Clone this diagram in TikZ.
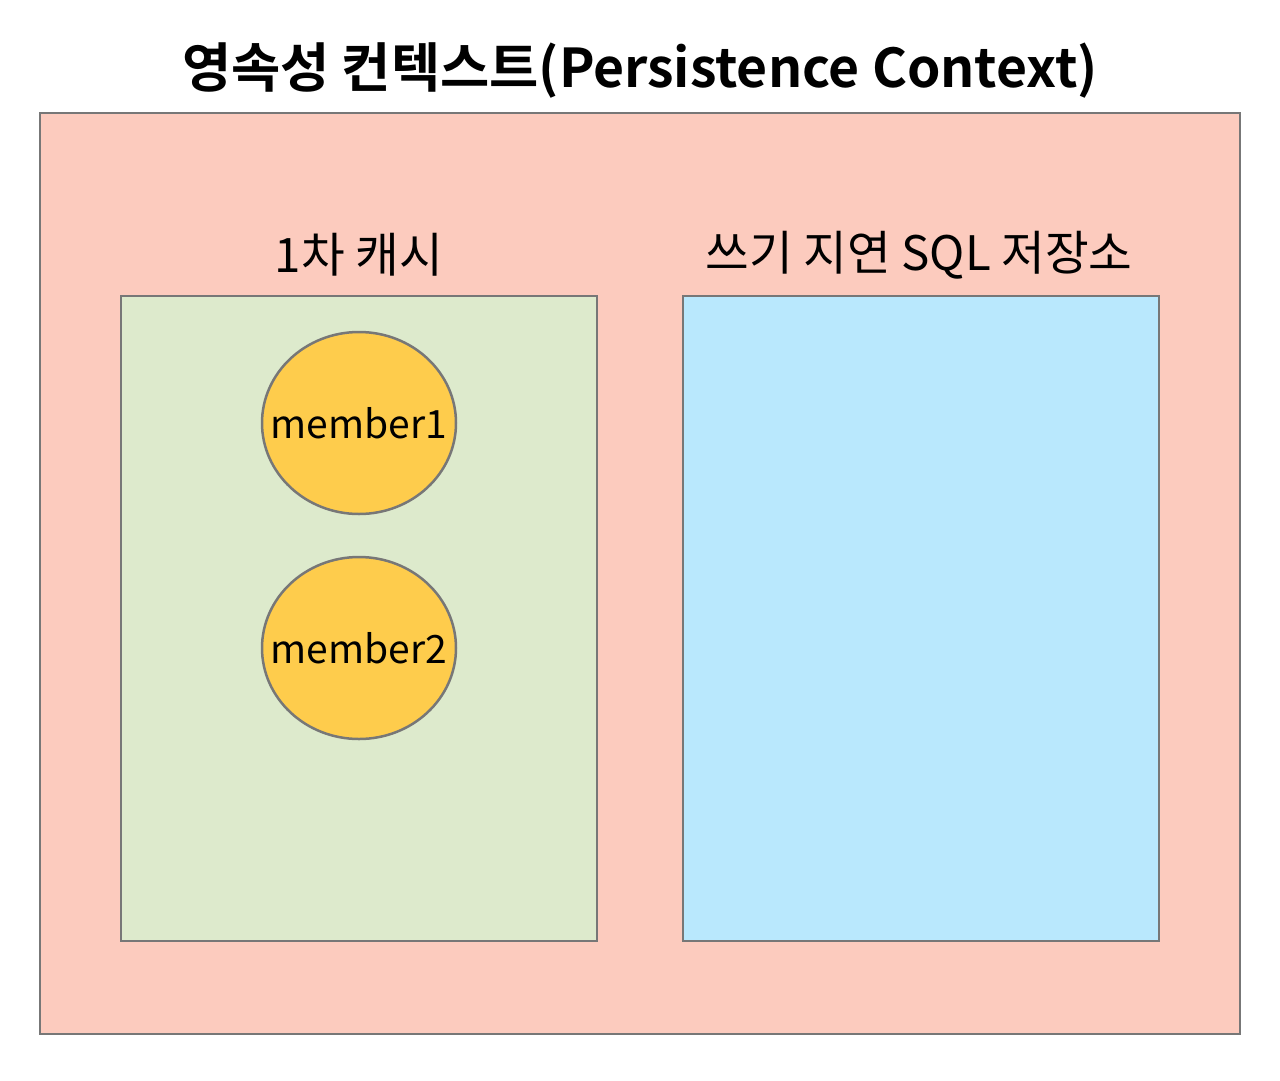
\documentclass[tikz,border=0pt]{standalone}
\usepackage{fontspec}
\setmainfont{Noto Sans CJK KR}
\newfontfamily\krbold{Noto Sans CJK KR Bold}
\usetikzlibrary{shapes.geometric}
\definecolor{outerfill}{HTML}{FCCBBE}
\definecolor{greenfill}{HTML}{DDEACC}
\definecolor{bluefill}{HTML}{B9E8FD}
\definecolor{yellowfill}{HTML}{FECC4C}
\definecolor{edgegray}{HTML}{777777}
\begin{document}
\begin{tikzpicture}[x=1pt,y=-1pt,
  boxstyle/.style={draw=edgegray,line width=2.5pt},
  memberstyle/.style={ellipse,draw=edgegray,line width=2.5pt,fill=yellowfill,minimum width=194pt,minimum height=182pt,inner sep=0pt,
    label={[font=\fontsize{39}{44}\selectfont,inner sep=0pt]center:#1}},
  labelstyle/.style={font=\fontsize{47.5}{52}\selectfont,anchor=center,inner sep=0pt}]
\useasboundingbox (0,0) rectangle (1280,1080);
\fill[white] (0,0) rectangle (1280,1080);
\node[draw=none,inner sep=0pt,font=\krbold\fontsize{53.5}{60}\selectfont] (title) at (640,70) {영속성 컨텍스트(Persistence Context)};
\draw[boxstyle,fill=outerfill] (40,113) rectangle (1240,1034);
\draw[boxstyle,fill=greenfill] (121,296) rectangle (597,941);
\draw[boxstyle,fill=bluefill] (683,296) rectangle (1159,941);
\node[labelstyle] (cachelabel) at (359,255) {1차 캐시};
\node[labelstyle] (sqllabel) at (919,255) {쓰기 지연 SQL 저장소};
\node[memberstyle=member1] (m1) at (359,423) {};
\node[memberstyle=member2] (m2) at (359,648) {};
\end{tikzpicture}
\end{document}
